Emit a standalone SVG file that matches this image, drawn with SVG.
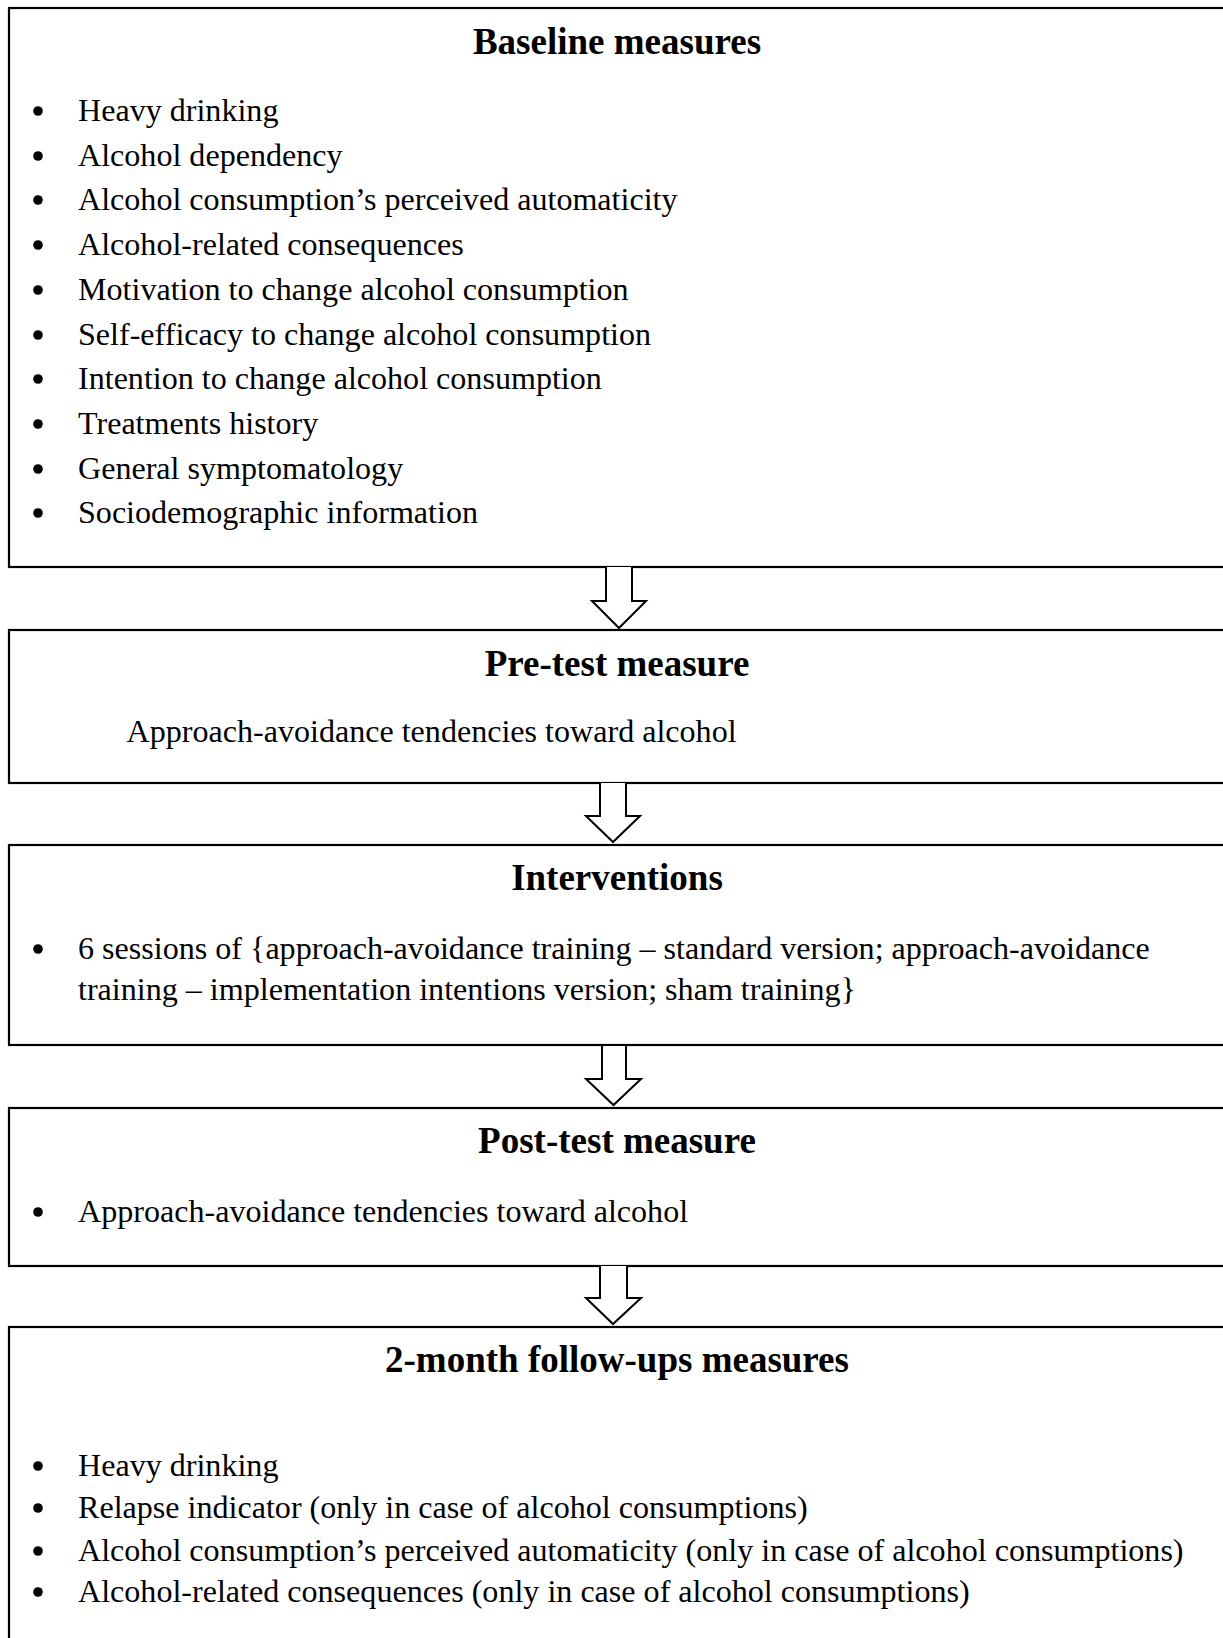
<svg xmlns="http://www.w3.org/2000/svg" width="1223" height="1638" viewBox="0 0 1223 1638">
<style>
.box{fill:#fff;stroke:#000;stroke-width:2.2}
.arrow{fill:#fff;stroke:#000;stroke-width:2;stroke-linejoin:miter}
.title{font-family:"Liberation Serif","Times New Roman",serif;font-weight:bold;font-size:37px;text-anchor:middle;fill:#000}
.body{font-family:"Liberation Serif","Times New Roman",serif;font-size:32.1px;fill:#000}
.dot{fill:#000}
</style>
<rect width="1223" height="1638" fill="#fff"/>
<g id="baseline">
<rect class="box" x="9" y="8" width="1240" height="559"/>
<text class="title" x="617" y="54">Baseline measures</text>
<circle class="dot" cx="38" cy="111" r="4.8"/><text class="body" x="78" y="121">Heavy drinking</text>
<circle class="dot" cx="38" cy="156" r="4.8"/><text class="body" x="78" y="166">Alcohol dependency</text>
<circle class="dot" cx="38" cy="200" r="4.8"/><text class="body" x="78" y="210">Alcohol consumption’s perceived automaticity</text>
<circle class="dot" cx="38" cy="245" r="4.8"/><text class="body" x="78" y="255">Alcohol-related consequences</text>
<circle class="dot" cx="38" cy="290" r="4.8"/><text class="body" x="78" y="300">Motivation to change alcohol consumption</text>
<circle class="dot" cx="38" cy="335" r="4.8"/><text class="body" x="78" y="345">Self-efficacy to change alcohol consumption</text>
<circle class="dot" cx="38" cy="379" r="4.8"/><text class="body" x="78" y="389">Intention to change alcohol consumption</text>
<circle class="dot" cx="38" cy="424" r="4.8"/><text class="body" x="78" y="434">Treatments history</text>
<circle class="dot" cx="38" cy="469" r="4.8"/><text class="body" x="78" y="479">General symptomatology</text>
<circle class="dot" cx="38" cy="513" r="4.8"/><text class="body" x="78" y="523">Sociodemographic information</text>
</g>
<g id="pretest">
<rect class="box" x="9" y="630" width="1240" height="153"/>
<text class="title" x="617" y="676">Pre-test measure</text>
<text class="body" x="126.5" y="741.5">Approach-avoidance tendencies toward alcohol</text>
</g>
<g id="interventions">
<rect class="box" x="9" y="845" width="1240" height="200"/>
<text class="title" x="617" y="890">Interventions</text>
<circle class="dot" cx="38" cy="949" r="4.8"/>
<text class="body" x="78" y="959">6 sessions of {approach-avoidance training – standard version; approach-avoidance</text>
<text class="body" x="78" y="999.5">training – implementation intentions version; sham training}</text>
</g>
<g id="posttest">
<rect class="box" x="9" y="1108" width="1240" height="158"/>
<text class="title" x="617" y="1153">Post-test measure</text>
<circle class="dot" cx="38" cy="1212" r="4.8"/>
<text class="body" x="78" y="1222">Approach-avoidance tendencies toward alcohol</text>
</g>
<g id="followup">
<rect class="box" x="9" y="1327" width="1240" height="340"/>
<text class="title" x="617" y="1372">2-month follow-ups measures</text>
<circle class="dot" cx="38" cy="1466" r="4.8"/><text class="body" x="78" y="1476">Heavy drinking</text>
<circle class="dot" cx="38" cy="1508" r="4.8"/><text class="body" x="78" y="1518">Relapse indicator (only in case of alcohol consumptions)</text>
<circle class="dot" cx="38" cy="1551" r="4.8"/><text class="body" x="78" y="1561">Alcohol consumption’s perceived automaticity (only in case of alcohol consumptions)</text>
<circle class="dot" cx="38" cy="1592" r="4.8"/><text class="body" x="78" y="1602">Alcohol-related consequences (only in case of alcohol consumptions)</text>
</g>
<g id="connectors">
<path class="arrow" d="M606,567 V601 H592 L619,628 L646,601 H632 V567"/>
<path class="arrow" d="M600,783 V816 H586 L613,842 L640,816 H626 V783"/>
<path class="arrow" d="M602,1046 V1079 H586 L613.5,1105 L641,1079 H626 V1046"/>
<path class="arrow" d="M600,1266 V1298 H586 L613,1324 L641,1298 H627 V1266"/>
</g>
</svg>
